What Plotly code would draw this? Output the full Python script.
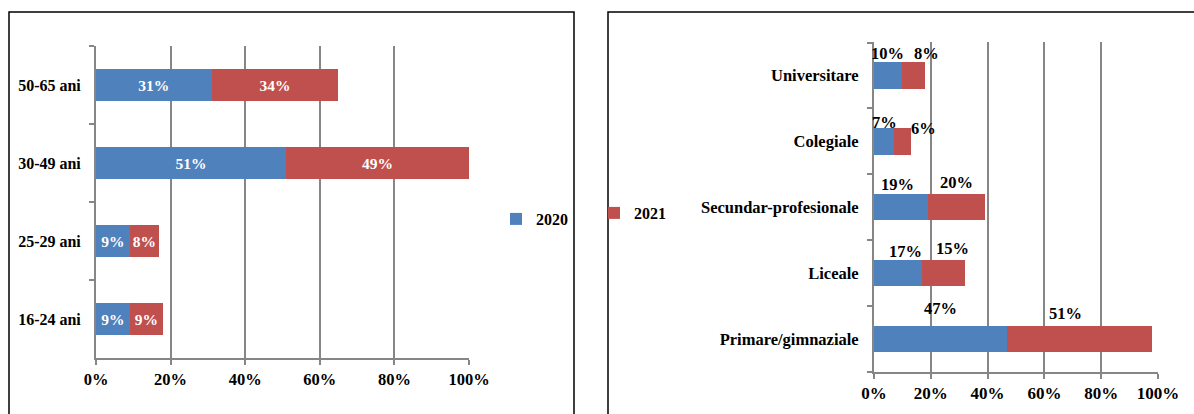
import plotly.graph_objects as go

# ---------------- data ----------------
age_groups = ["16-24 ani", "25-29 ani", "30-49 ani", "50-65 ani"]
age_2020 = [0.09, 0.09, 0.51, 0.31]
age_2021 = [0.09, 0.08, 0.49, 0.34]

edu_levels = ["Primare/gimnaziale", "Liceale", "Secundar-profesionale", "Colegiale", "Universitare"]
edu_2020 = [0.47, 0.17, 0.19, 0.07, 0.10]
edu_2021 = [0.51, 0.15, 0.20, 0.06, 0.08]

x_ticks = [0, 0.2, 0.4, 0.6, 0.8, 1.0]
x_tick_labels = ["0%", "20%", "40%", "60%", "80%", "100%"]

# ---------------- style ----------------
W, H = 1194, 414
BLUE = "#4F81BD"
RED = "#C0504D"
GRID = "#868686"
FONT = "Liberation Serif"

def px(x):
    return x / W

def py(y):
    return 1 - y / H

# small cosmetic nudges (pixels) for the right-chart labels: (xshift, yshift)
nudge_2020 = [(0, 31), (7, 22), (-3, 23), (1, 19), (-1, 22)]
nudge_2021 = [(-14, 26), (9, 25), (0, 25), (21, 13), (13, 22)]

fig = go.Figure()

# left chart
fig.add_trace(go.Bar(
    y=age_groups, x=age_2020, orientation="h", name="2020",
    marker=dict(color=BLUE, line=dict(width=0)),
    text=[f"{round(v*100)}%" for v in age_2020], textposition="inside",
    insidetextanchor="middle", textangle=0,
    textfont=dict(family=FONT, size=15.5, color="white", weight="bold"),
    xaxis="x", yaxis="y", legend="legend", showlegend=True,
))
fig.add_trace(go.Bar(
    y=age_groups, x=age_2021, orientation="h", name="2021",
    marker=dict(color=RED, line=dict(width=0)),
    text=[f"{round(v*100)}%" for v in age_2021], textposition="inside",
    insidetextanchor="middle", textangle=0,
    textfont=dict(family=FONT, size=15.5, color="white", weight="bold"),
    xaxis="x", yaxis="y", showlegend=False,
))

# right chart
fig.add_trace(go.Bar(
    y=edu_levels, x=edu_2020, orientation="h", name="2020",
    marker=dict(color=BLUE, line=dict(width=0)),
    xaxis="x2", yaxis="y2", showlegend=False,
))
fig.add_trace(go.Bar(
    y=edu_levels, x=edu_2021, orientation="h", name="2021",
    marker=dict(color=RED, line=dict(width=0)),
    xaxis="x2", yaxis="y2", legend="legend2", showlegend=True,
))

annotations = []
for i, cat in enumerate(edu_levels):
    a, b = edu_2020[i], edu_2021[i]
    for xc, val, (dx, dy) in ((a / 2, a, nudge_2020[i]), (a + b / 2, b, nudge_2021[i])):
        annotations.append(dict(
            x=xc, y=cat, xref="x2", yref="y2", text=f"{round(val*100)}%",
            showarrow=False, xshift=dx, yshift=dy,
            font=dict(family=FONT, size=16.5, color="black", weight="bold"),
        ))

def xaxis_style(size):
    return dict(range=[0, 1], tickvals=x_ticks, ticktext=x_tick_labels,
                showgrid=True, gridcolor=GRID, gridwidth=2, zeroline=False,
                showline=True, linecolor=GRID, linewidth=2,
                ticks="outside", ticklen=5, tickcolor=GRID, tickwidth=2,
                automargin=False, ticklabelstandoff=0,
                tickfont=dict(family=FONT, size=size, color="black", weight="bold"),
                fixedrange=True)

def yaxis_style(size, cats, standoff):
    return dict(type="category", categoryorder="array", categoryarray=cats,
                showgrid=False, zeroline=False,
                showline=True, linecolor=GRID, linewidth=2,
                ticks="outside", ticklen=5, tickcolor=GRID, tickwidth=2,
                tickson="boundaries", automargin=False, ticklabelstandoff=standoff,
                tickfont=dict(family=FONT, size=size, color="black", weight="bold"),
                fixedrange=True)

shapes = [
    dict(type="rect", xref="paper", yref="paper",
         x0=px(9), x1=px(574), y0=py(430), y1=py(12),
         line=dict(color="black", width=1.5), fillcolor="rgba(0,0,0,0)"),
    dict(type="rect", xref="paper", yref="paper",
         x0=px(608), x1=px(1210), y0=py(430), y1=py(12),
         line=dict(color="black", width=1.5), fillcolor="rgba(0,0,0,0)"),
]

fig.update_layout(
    width=W, height=H,
    margin=dict(l=0, r=0, t=0, b=0, autoexpand=False),
    paper_bgcolor="white", plot_bgcolor="white",
    barmode="stack", bargap=0.6,
    font=dict(family=FONT, size=16, color="black"),
    xaxis=dict(domain=[px(96), px(469)], anchor="y", **xaxis_style(16.5)),
    yaxis=dict(domain=[py(358), py(46)], anchor="x", **yaxis_style(16, age_groups, 10)),
    xaxis2=dict(domain=[px(874), px(1158)], anchor="y2", **xaxis_style(17)),
    yaxis2=dict(domain=[py(372), py(42)], anchor="x2", **yaxis_style(16.5, edu_levels, 10)),
    legend=dict(x=px(496), y=py(219), xanchor="left", yanchor="middle",
                bgcolor="rgba(0,0,0,0)", itemwidth=30,
                font=dict(family=FONT, size=16, color="black", weight="bold")),
    legend2=dict(x=px(594), y=py(213), xanchor="left", yanchor="middle",
                 bgcolor="rgba(0,0,0,0)", itemwidth=30,
                 font=dict(family=FONT, size=16, color="black", weight="bold")),
    uniformtext=dict(minsize=15.5, mode="show"),
    shapes=shapes,
    annotations=annotations,
    showlegend=True,
)

fig.write_html(
    "out.html",
    config={"displayModeBar": False, "staticPlot": True},
    post_script="document.body.style.margin='0';document.body.style.padding='0';document.body.style.overflow='hidden';",
)
